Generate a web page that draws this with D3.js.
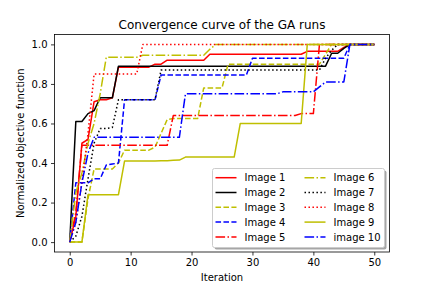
<!DOCTYPE html>
<html><head><meta charset="utf-8">
<script src="https://cdn.jsdelivr.net/npm/d3@7"></script>
<style>body{margin:0;background:#fff}text{font-family:"DejaVu Sans",sans-serif;fill:#000}</style>
</head><body><svg id="c" width="432" height="288"></svg>
<script>
const iterations = d3.range(0, 51);
const xTicks = [0, 10, 20, 30, 40, 50];
const yTicks = [0, 0.2, 0.4, 0.6, 0.8, 1.0];
const seriesNames = ["Image 1","Image 2","Image 3","Image 4","Image 5","Image 6","Image 7","Image 8","Image 9","image 10"];
const seriesColors = ["#ff0000","#000000","#bfbf00","#0000ff","#ff0000","#bfbf00","#000000","#ff0000","#bfbf00","#0000ff"];
const seriesStyles = ["solid","solid","dashed","dashed","dashdot","dashdot","dotted","dotted","solid","dashdot"];

const img1 = [0,0.13,0.5,0.52,0.71,0.72,0.72,0.73,0.885,0.885,
 0.885,0.885,0.885,0.885,0.9,0.9,0.92,0.92,0.92,0.92,
 0.92,0.92,0.92,0.95,0.95,0.95,0.95,0.95,0.95,0.95,
 0.95,0.95,0.95,0.95,0.95,0.95,0.95,0.95,0.95,0.965,
 0.965,0.965,0.965,0.965,0.965,0.985,1,1,1,1,1];
const img2 = [0,0.61,0.61,0.65,0.665,0.73,0.73,0.73,0.89,0.89,
 0.89,0.89,0.89,0.89,0.89,0.89,0.89,0.89,0.89,0.89,
 0.89,0.89,0.89,0.89,0.89,0.89,0.89,0.89,0.89,0.89,
 0.89,0.89,0.89,0.89,0.89,0.89,0.89,0.89,0.89,0.89,
 0.89,0.89,0.89,0.955,0.955,0.98,1,1,1,1,1];
const img3 = [0,0,0,0.22,0.37,0.37,0.37,0.37,0.4,0.465,
 0.465,0.465,0.465,0.465,0.48,0.55,0.62,0.625,0.625,0.625,
 0.625,0.625,0.78,0.78,0.78,0.78,0.9,0.9,0.9,0.9,
 0.9,0.9,0.9,0.9,0.9,0.9,0.9,0.9,0.9,0.9,
 0.9,0.9,0.95,1,1,1,1,1,1,1,1];
const img4 = [0,0.3,0.3,0.3,0.32,0.32,0.39,0.395,0.4,0.72,
 0.72,0.72,0.72,0.72,0.72,0.845,0.845,0.845,0.845,0.845,
 0.845,0.845,0.845,0.845,0.845,0.845,0.845,0.845,0.845,0.845,
 0.93,0.93,0.93,0.93,0.93,0.93,0.93,0.93,0.93,0.93,
 0.93,0.93,0.93,0.93,0.93,0.93,1,1,1,1,1];
const img5 = [0,0.15,0.49,0.49,0.49,0.49,0.49,0.49,0.49,0.49,
 0.49,0.49,0.49,0.49,0.49,0.49,0.49,0.64,0.64,0.64,
 0.64,0.64,0.64,0.64,0.64,0.64,0.64,0.64,0.64,0.64,
 0.64,0.64,0.64,0.64,0.64,0.64,0.64,0.64,0.65,0.65,
 0.65,1,1,1,1,1,1,1,1,1,1];
const img6 = [0,0.25,0.35,0.5,0.6,0.75,0.935,0.935,0.935,0.935,
 0.935,0.935,0.945,0.945,0.945,0.945,0.945,0.945,0.945,0.945,
 0.945,0.945,0.945,0.975,1,1,1,1,1,1,
 1,1,1,1,1,1,1,1,1,1,
 1,1,1,1,1,1,1,1,1,1,1];
const img7 = [0,0.03,0.13,0.32,0.5,0.575,0.575,0.58,0.72,0.72,
 0.72,0.72,0.72,0.72,0.72,0.87,0.87,0.87,0.87,0.87,
 0.87,0.87,0.87,0.87,0.87,0.87,0.87,0.87,0.87,0.87,
 0.87,0.87,0.87,0.87,0.87,0.87,0.87,0.87,0.87,0.87,
 0.87,0.87,0.93,0.97,1,1,1,1,1,1,1];
const img8 = [0,0.1,0.3,0.55,0.85,0.85,0.85,0.85,0.85,0.85,
 0.85,0.85,1,1,1,1,1,1,1,1,
 1,1,1,1,1,1,1,1,1,1,
 1,1,1,1,1,1,1,1,1,1,
 1,1,1,1,1,1,1,1,1,1,1];
const img9 = [0,0,0,0.24,0.24,0.24,0.24,0.24,0.24,0.41,
 0.41,0.41,0.41,0.41,0.41,0.412,0.412,0.414,0.415,0.43,
 0.43,0.43,0.43,0.43,0.43,0.43,0.43,0.43,0.6,0.6,
 0.6,0.6,0.6,0.6,0.6,0.6,0.6,0.6,0.6,1,
 1,1,1,1,1,1,1,1,1,1,1];
const img10 = [0,0.1,0.3,0.45,0.53,0.53,0.53,0.53,0.53,0.53,
 0.53,0.53,0.53,0.53,0.53,0.53,0.53,0.53,0.53,0.75,
 0.75,0.75,0.75,0.75,0.75,0.75,0.75,0.75,0.75,0.75,
 0.75,0.75,0.75,0.75,0.75,0.76,0.76,0.76,0.76,0.76,
 0.76,0.785,0.81,0.81,0.81,0.81,1,1,1,1,1];
const seriesValues = [img1,img2,img3,img4,img5,img6,img7,img8,img9,img10];

const dashFor = {solid:null, dashed:"5.55,2.4", dashdot:"9.6,2.4,1.5,2.4", dotted:"1.5,2.475"};

const W = 432, H = 288;
const L = 54.5, R = 389.5, T = 34.5, B = 252;
const svg = d3.select("#c");
const x = d3.scaleLinear().domain([-2.5, 52.5]).range([L, R]);
const y = d3.scaleLinear().domain([-0.05, 1.05]).range([B, T]);

// title
svg.append("text").attr("x", (L+R)/2).attr("y", 29).attr("text-anchor","middle")
  .style("font-size","12px").text("Convergence curve of the GA runs");

// lines
const clip = svg.append("defs").append("clipPath").attr("id","clp")
  .append("rect").attr("x",L).attr("y",T).attr("width",R-L).attr("height",B-T);
const gLines = svg.append("g").attr("clip-path","url(#clp)");
const line = d3.line().x((d,i)=>x(iterations[i])).y(d=>y(d));
seriesValues.forEach((vals, k) => {
  gLines.append("path").attr("d", line(vals)).attr("fill","none")
    .attr("stroke", seriesColors[k]).attr("stroke-width",1.5)
    .attr("stroke-dasharray", dashFor[seriesStyles[k]])
    .attr("stroke-linejoin","round");
});

// axes
const xAxis = d3.axisBottom(x).tickValues(xTicks).tickSize(3.5).tickPadding(3.5).tickFormat(d3.format("d"));
const yAxis = d3.axisLeft(y).tickValues(yTicks).tickSize(3.5).tickPadding(3.5).tickFormat(d3.format(".1f"));
const gx = svg.append("g").attr("transform",`translate(0,${B})`).call(xAxis);
const gy = svg.append("g").attr("transform",`translate(${L},0)`).call(yAxis);
[gx, gy].forEach(g => {
  g.select(".domain").remove();
  g.selectAll(".tick line").attr("stroke","#000").attr("stroke-width",0.8);
  g.selectAll(".tick text").style("font-size","10px").style("font-family","DejaVu Sans").attr("fill","#000");
});
// frame
svg.append("rect").attr("x",L).attr("y",T).attr("width",R-L).attr("height",B-T)
  .attr("fill","none").attr("stroke","#000").attr("stroke-width",0.8);

// labels
svg.append("text").attr("x",(L+R)/2).attr("y",281).attr("text-anchor","middle")
  .style("font-size","10px").text("Iteration");
svg.append("text").attr("transform",`translate(24,${(T+B)/2}) rotate(-90)`).attr("text-anchor","middle")
  .style("font-size","10px").text("Normalized objective function");

// legend
const lg = svg.append("g");
const lx = 212.5, ly = 168.5, lw = 172, lh = 79;
lg.append("rect").attr("x",lx+2).attr("y",ly+2).attr("width",lw).attr("height",lh).attr("rx",2)
  .attr("fill","#4d4d4d").attr("opacity",0.5);
lg.append("rect").attr("x",lx).attr("y",ly).attr("width",lw).attr("height",lh).attr("rx",2)
  .attr("fill","#fff").attr("stroke","#cccccc").attr("stroke-width",1);
seriesNames.forEach((name, k) => {
  const col = Math.floor(k/5), row = k%5;
  const hx = col === 0 ? 215.5 : 304.5;
  const cy = 177.7 + row*14.8;
  lg.append("line").attr("x1",hx).attr("x2",hx+21).attr("y1",cy).attr("y2",cy)
    .attr("stroke",seriesColors[k]).attr("stroke-width",1.5)
    .attr("stroke-dasharray", dashFor[seriesStyles[k]]);
  lg.append("text").attr("x",hx+29).attr("y",cy+3.6).style("font-size","10px").text(name);
});
</script></body></html>
